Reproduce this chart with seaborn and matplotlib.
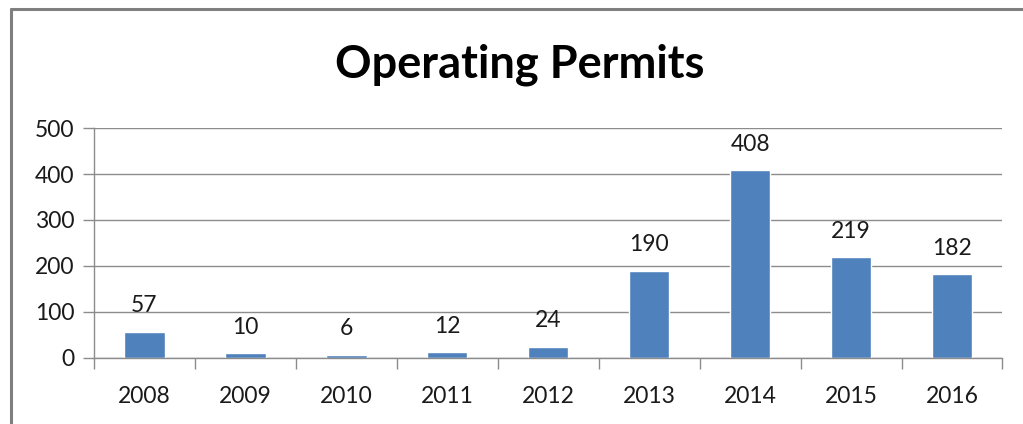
import matplotlib
matplotlib.use("Agg")
import matplotlib.pyplot as plt
import seaborn as sns
from matplotlib.lines import Line2D

years = ["2008", "2009", "2010", "2011", "2012", "2013", "2014", "2015", "2016"]
permits = [57, 10, 6, 12, 24, 190, 408, 219, 182]
y_ticks = [0, 100, 200, 300, 400, 500]

sns.set_theme(style="white")
plt.rcParams["font.family"] = ["Lato", "DejaVu Sans"]

fig = plt.figure(figsize=(10.23, 4.24), dpi=100)
ax = fig.add_axes([0.0919, 0.156, 0.888, 0.542])

sns.barplot(x=years, y=permits, color="#4F81BD", width=0.4, saturation=1, ax=ax)

for i, v in enumerate(permits):
    ax.text(i, v + 34, str(v), ha="center", va="bottom", fontsize=16.5, color="#1a1a1a")

ax.set_ylim(0, 500)
ax.set_yticks(y_ticks)
ax.set_xlim(-0.5, len(years) - 0.5)
ax.yaxis.grid(True, color="#8c8c8c", linewidth=1)
ax.set_axisbelow(True)
for side in ["top", "right"]:
    ax.spines[side].set_visible(False)
for side in ["left", "bottom"]:
    ax.spines[side].set_color("#8c8c8c")
    ax.spines[side].set_linewidth(1)

ax.tick_params(axis="y", left=True, length=8, width=1, color="#8c8c8c",
               labelsize=16.5, labelcolor="#1a1a1a", pad=6)
ax.set_xticks([x + 0.5 for x in range(-1, len(years))], minor=True)
ax.tick_params(axis="x", which="major", bottom=False, labelsize=16.5,
               labelcolor="#1a1a1a", pad=14)
ax.tick_params(axis="x", which="minor", bottom=True, length=8, width=1,
               color="#8c8c8c")

fig.text(0.508, 0.847, "Operating Permits", ha="center", va="center",
         fontsize=32.5, fontweight="bold", color="black")

# chart frame (left and top edges visible in the crop)
fig.add_artist(Line2D([0.0105, 0.0105], [0, 0.979], color="#7f7f7f", linewidth=2.2))
fig.add_artist(Line2D([0.0105, 1], [0.979, 0.979], color="#7f7f7f", linewidth=2.2))

fig.savefig("out.png", dpi=100)
